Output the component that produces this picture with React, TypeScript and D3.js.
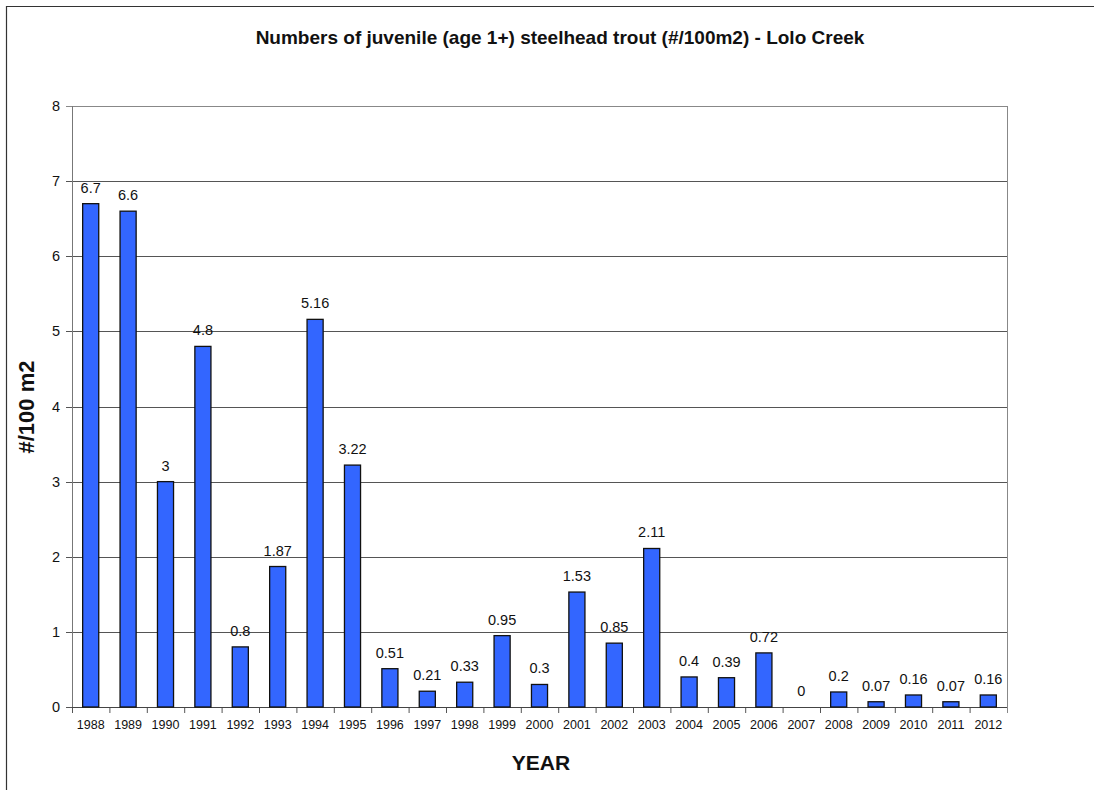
import React from "react";
import * as d3 from "d3";

const years = [
  "1988", "1989", "1990", "1991", "1992", "1993", "1994", "1995", "1996", "1997",
  "1998", "1999", "2000", "2001", "2002", "2003", "2004", "2005", "2006", "2007",
  "2008", "2009", "2010", "2011", "2012",
];
const densities = [
  6.7, 6.6, 3, 4.8, 0.8, 1.87, 5.16, 3.22, 0.51, 0.21,
  0.33, 0.95, 0.3, 1.53, 0.85, 2.11, 0.4, 0.39, 0.72, 0,
  0.2, 0.07, 0.16, 0.07, 0.16,
];
const yTicks = [0, 1, 2, 3, 4, 5, 6, 7, 8];

const W = 1094;
const H = 790;
const plot = { left: 72, right: 1007, top: 106, bottom: 707 };
const FONT = "'Liberation Sans', Arial, sans-serif";

export default function App() {
  const x = d3
    .scaleBand<string>()
    .domain(years)
    .range([plot.left, plot.right])
    .paddingInner(0.57)
    .paddingOuter(0.285);
  const y = d3.scaleLinear().domain([0, 8]).range([plot.bottom, plot.top]);
  const step = x.step();

  return (
    <svg
      width={W}
      height={H}
      style={{ position: "absolute", left: 0, top: 0, background: "#fff" }}
      fontFamily={FONT}
    >
      {/* outer chart frame */}
      <line x1={6.5} y1={6} x2={6.5} y2={H} stroke="#333" strokeWidth={1.2} />
      <line x1={6} y1={6.5} x2={W} y2={6.5} stroke="#333" strokeWidth={1.2} />

      <text x={560} y={44} textAnchor="middle" fontSize={19} fontWeight="bold" fill="#111">
        Numbers of juvenile (age 1+) steelhead trout (#/100m2) - Lolo Creek
      </text>

      {/* gridlines */}
      {yTicks.map((t) => (
        <line
          key={"g" + t}
          x1={plot.left - 6}
          x2={plot.right}
          y1={Math.round(y(t)) + 0.5}
          y2={Math.round(y(t)) + 0.5}
          stroke={t === 8 ? "#888" : "#555"}
          strokeWidth={1}
        />
      ))}
      {/* plot frame sides */}
      <line x1={plot.left + 0.5} x2={plot.left + 0.5} y1={plot.top} y2={plot.bottom + 6} stroke="#777" />
      <line x1={plot.right + 0.5} x2={plot.right + 0.5} y1={plot.top} y2={plot.bottom + 6} stroke="#888" />

      {yTicks.map((t) => (
        <text key={"yl" + t} x={60} y={y(t) + 5} textAnchor="end" fontSize={14.5} fill="#111">
          {t}
        </text>
      ))}

      {/* x ticks between categories */}
      {years.map((yr, i) => (
        <line
          key={"xt" + yr}
          x1={plot.left + step * i + 0.5}
          x2={plot.left + step * i + 0.5}
          y1={plot.bottom}
          y2={plot.bottom + 6}
          stroke="#555"
        />
      ))}
      <line x1={plot.left} x2={plot.right} y1={plot.bottom + 0.5} y2={plot.bottom + 0.5} stroke="#444" />

      {years.map((yr, i) => {
        const v = densities[i];
        const bx = x(yr)!;
        const top = y(v);
        return (
          <g key={"b" + yr}>
            {v > 0 && (
              <rect
                x={bx}
                y={top}
                width={x.bandwidth()}
                height={plot.bottom - top}
                fill="#3366FF"
                stroke="#111"
                strokeWidth={1.3}
              />
            )}
            <text
              x={bx + x.bandwidth() / 2}
              y={top - 11}
              textAnchor="middle"
              fontSize={14.5}
              fill="#111"
            >
              {String(v)}
            </text>
            <text
              x={bx + x.bandwidth() / 2}
              y={plot.bottom + 22}
              textAnchor="middle"
              fontSize={12.5}
              fill="#111"
            >
              {yr}
            </text>
          </g>
        );
      })}

      <text x={541} y={770} textAnchor="middle" fontSize={21} fontWeight="bold" fill="#111">
        YEAR
      </text>
      <text
        transform={`translate(34, 407) rotate(-90)`}
        textAnchor="middle"
        fontSize={22}
        fontWeight="bold"
        fill="#111"
      >
        #/100 m2
      </text>
    </svg>
  );
}
